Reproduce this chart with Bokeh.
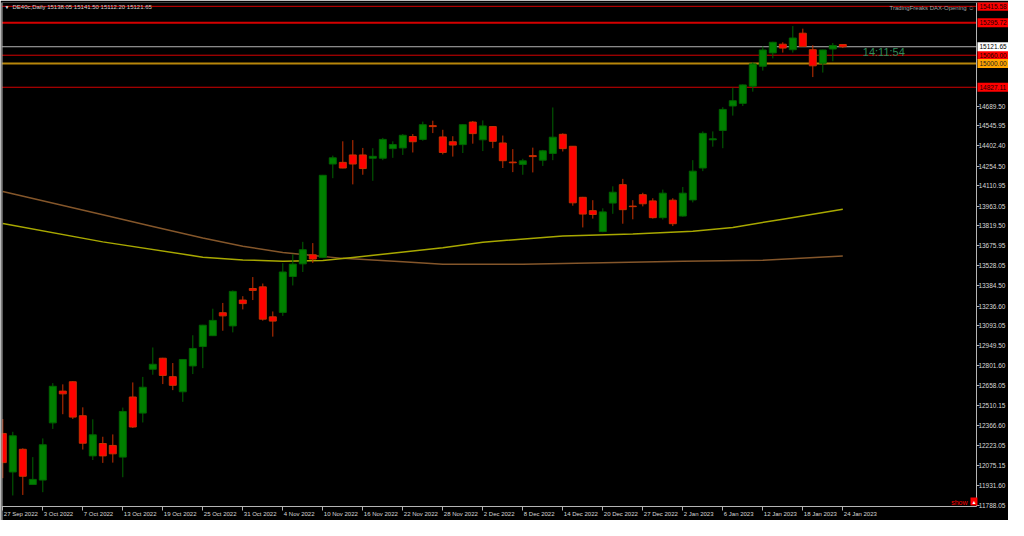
from bokeh.plotting import figure
from bokeh.models import Range1d, FixedTicker, Span, Label, LinearAxis
from bokeh.embed import file_html
from bokeh.resources import INLINE

# ---------------- data ----------------
open_ = [12310, 12030, 12195, 11939, 11971, 12387, 12618, 12686, 12439, 12147,
         12237, 12223, 12138, 12575, 12458, 12777, 12857, 12723, 12613, 12801,
         12942, 13021, 13188, 13092, 13280, 13364, 13376, 13158, 13190, 13451,
         13543, 13609, 13590, 14269, 14281, 14335, 14335, 14311, 14311, 14381,
         14386, 14469, 14448, 14548, 14466, 14431, 14410, 14574, 14445, 14541,
         14422, 14283, 14266, 14330, 14297, 14346, 14485, 14398, 14027, 13930,
         13778, 13985, 14119, 13963, 14046, 14001, 13879, 14006, 13891, 14008,
         14240, 14445, 14513, 14691, 14710, 14835, 14980, 15077, 15140, 15100,
         15220, 15100, 15002, 15105, 15138.05]
high = [12415, 12322, 12202, 12138, 12274, 12676, 12667, 12690, 12500, 12413,
        12286, 12303, 12498, 12681, 12721, 12935, 12860, 12822, 12850, 13024,
        13100, 13217, 13259, 13350, 13308, 13447, 13400, 13197, 13548, 13613,
        13703, 13694, 14190, 14330, 14434, 14443, 14386, 14384, 14459, 14434,
        14487, 14487, 14577, 14584, 14518, 14471, 14560, 14582, 14586, 14545,
        14476, 14377, 14307, 14388, 14372, 14680, 14492, 14400, 14030, 14006,
        13947, 14107, 14161, 14006, 14060, 14020, 14083, 14020, 14102, 14297,
        14506, 14506, 14682, 14823, 14848, 15009, 15124, 15158, 15154, 15272,
        15253, 15133, 15100, 15149, 15141.50]
low = [11985, 11859, 11863, 11935, 11883, 12343, 12450, 12415, 12193, 12117,
       12096, 12098, 11992, 12350, 12390, 12737, 12669, 12625, 12540, 12742,
       12785, 13018, 13057, 13045, 13212, 13280, 13130, 13014, 13165, 13386,
       13484, 13550, 13585, 14166, 14238, 14121, 14191, 14147, 14297, 14314,
       14335, 14353, 14438, 14494, 14339, 14323, 14349, 14417, 14363, 14384,
       14240, 14210, 14191, 14208, 14255, 14297, 14360, 13966, 13808, 13872,
       13773, 13907, 13835, 13867, 13961, 13872, 13865, 13818, 13886, 13990,
       14217, 14395, 14384, 14621, 14691, 14795, 14948, 15037, 15079, 15079,
       15120, 14901, 14934, 15016, 15112.20]
close = [12098, 12293, 11999, 11976, 12228, 12653, 12598, 12429, 12239, 12300,
         12147, 12162, 12470, 12357, 12646, 12813, 12732, 12660, 12848, 12928,
         13097, 13132, 13165, 13343, 13254, 13350, 13141, 13127, 13484, 13541,
         13646, 13578, 14187, 14314, 14240, 14269, 14236, 14325, 14448, 14410,
         14478, 14431, 14555, 14541, 14353, 14407, 14555, 14490, 14546, 14434,
         14293, 14278, 14292, 14323, 14365, 14464, 14381, 13987, 13905, 13902,
         13921, 14064, 13937, 13959, 13980, 13879, 14057, 13835, 14057, 14217,
         14492, 14452, 14666, 14729, 14844, 14997, 15098, 15154, 15112, 15185,
         15124, 14983, 15098, 15131, 15121.65]

# moving averages (bar index, value)
ma_slow_idx = [0, 10, 15, 20, 24, 28, 34, 40, 44, 52, 60, 68, 76, 84]
ma_slow_val = [14069, 13900, 13815, 13731, 13671, 13625, 13583, 13558, 13541,
               13541, 13551, 13562, 13569, 13600]
ma_fast_idx = [0, 10, 20, 24, 28, 32, 35, 38, 44, 48, 56, 63, 69, 73, 78, 84]
ma_fast_val = [13837, 13703, 13592, 13572, 13562, 13567, 13590, 13613, 13660,
               13701, 13745, 13761, 13780, 13808, 13868, 13940]

# x-axis tick labels (every 4th bar)
tick_idx = list(range(0, 85, 4))
tick_labels = ["27 Sep 2022", "3 Oct 2022", "7 Oct 2022", "13 Oct 2022",
               "19 Oct 2022", "25 Oct 2022", "31 Oct 2022", "4 Nov 2022",
               "10 Nov 2022", "16 Nov 2022", "22 Nov 2022", "28 Nov 2022",
               "2 Dec 2022", "8 Dec 2022", "14 Dec 2022", "20 Dec 2022",
               "27 Dec 2022", "2 Jan 2023", "6 Jan 2023", "12 Jan 2023",
               "18 Jan 2023", "24 Jan 2023"]

# price-axis ticks
y_ticks = [11788.05, 11931.60, 12075.15, 12223.05, 12366.60, 12510.15,
           12658.05, 12801.60, 12949.50, 13093.05, 13236.60, 13384.50,
           13528.05, 13675.95, 13819.50, 13963.05, 14110.95, 14254.50,
           14402.40, 14545.95, 14689.50]

# horizontal levels
level_values = [15415.58, 15295.72, 15060.00, 14827.11]
level_widths = [1, 2, 1, 1]
orange_level = 15000.00
bid_level = 15121.65

# ---------------- layout constants ----------------
W, H = 1008, 520
X_START = -0.13            # left edge of chart area (bar units)
X_AXIS = X_START + 97.5    # position of the price axis line
X_END = X_START + 100.7    # right edge of canvas
Y_TOP = 15443.3            # price at top of chart area
Y_BOT = 11779.0            # price at bottom of chart area
PX_PRICE = (Y_TOP - Y_BOT) / 504.0
Y_START = Y_TOP - 518 * PX_PRICE

FONT = "Liberation Sans"
FS = "6.5px"
FS_SMALL = "6px"
TXT = "#d8d8d8"
GRID = "#b4b4b4"

p = figure(width=W, height=H, output_backend="svg", toolbar_location=None,
           x_range=Range1d(X_START, X_END), y_range=Range1d(Y_START, Y_TOP),
           x_axis_location=None, y_axis_location=None,
           min_border_left=1, min_border_right=0, min_border_top=2,
           min_border_bottom=0,
           background_fill_color="black", border_fill_color="black",
           outline_line_color=None)
p.grid.visible = False

# price axis: drawn at a fixed location with labels to its right
ya = LinearAxis(fixed_location=X_AXIS, ticker=FixedTicker(ticks=y_ticks),
                bounds=(Y_BOT, Y_TOP + 20 * PX_PRICE),
                major_label_overrides={v: f"{v:.2f}" for v in y_ticks},
                major_label_text_font=FONT, major_label_text_font_size=FS,
                major_label_text_color=TXT, major_tick_in=3, major_tick_out=0,
                minor_tick_line_color=None, major_tick_line_color=GRID,
                axis_line_color=GRID, major_label_standoff=-29)
p.add_layout(ya, "left")

# time axis: line + tick marks at the bottom of the chart area
xa = LinearAxis(fixed_location=Y_BOT, ticker=FixedTicker(ticks=tick_idx),
                bounds=(X_START, X_AXIS),
                major_label_overrides={i: "" for i in tick_idx},
                major_label_text_font_size="1px", major_label_standoff=0,
                major_tick_in=4, major_tick_out=0, minor_tick_line_color=None,
                major_tick_line_color=GRID, axis_line_color=GRID)
p.add_layout(xa, "above")

# date labels, left-aligned on their tick
for i, t in zip(tick_idx, tick_labels):
    p.add_layout(Label(x=i, y=Y_BOT, y_offset=-7, x_offset=1, text=t,
                       text_align="left", text_baseline="middle",
                       text_font=FONT, text_font_size=FS_SMALL,
                       text_color=TXT))

# left border of chart area
p.add_layout(Span(location=X_START, dimension="height", line_color=GRID,
                  line_width=2))

# horizontal levels
n = len(level_values)
p.segment([X_START] * n, level_values, [X_AXIS] * n, level_values,
          line_color="#d40000", line_width=level_widths)
p.segment([X_START], [orange_level], [X_AXIS], [orange_level],
          line_color="#b8860b", line_width=2)
p.segment([X_START], [bid_level], [X_AXIS], [bid_level],
          line_color=GRID, line_width=1)

# moving averages
p.line(ma_slow_idx, ma_slow_val, line_color="#84562a", line_width=1.5)
p.line(ma_fast_idx, ma_fast_val, line_color="#a8a800", line_width=1.5)

# candles
idx = list(range(len(open_)))
up = [i for i in idx if close[i] >= open_[i]]
dn = [i for i in idx if close[i] < open_[i]]
p.segment(up, [high[i] for i in up], up, [low[i] for i in up],
          line_color="#006400", line_width=1)
p.segment(dn, [high[i] for i in dn], dn, [low[i] for i in dn],
          line_color="#c83000", line_width=1)
p.vbar(x=up, width=0.7, bottom=[open_[i] for i in up],
       top=[close[i] for i in up], fill_color="#008000", line_color="#006400")
p.vbar(x=dn, width=0.7, bottom=[close[i] for i in dn],
       top=[open_[i] for i in dn], fill_color="#ff0000", line_color="#c83000")

# price tags over the price axis
def tag(v, bg, fg):
    p.add_layout(Label(x=X_AXIS, y=v, x_offset=1, text=f"{v:.2f}",
                       text_align="left", text_baseline="middle",
                       text_font=FONT, text_font_size=FS, text_color=fg,
                       background_fill_color=bg, padding=2))

for v in level_values:
    tag(v, "#ff0000", "#200000")
tag(orange_level, "#ffa500", "#202020")
tag(bid_level, "#ffffff", "#000000")

# header texts
p.add_layout(Label(x=X_START, y=Y_TOP, x_offset=3, y_offset=-4,
                   text="\u25bc", text_baseline="middle", text_font=FONT,
                   text_font_size="5px", text_color="#e0e0e0"))
p.add_layout(Label(x=X_START, y=Y_TOP, x_offset=11, y_offset=-4,
                   text="DE40c,Daily  15138.05 15141.50 15112.20 15121.65",
                   text_baseline="middle", text_font=FONT,
                   text_font_size=FS_SMALL, text_color="#d0d0d0"))
p.add_layout(Label(x=X_AXIS, y=Y_TOP, x_offset=-2, y_offset=-5,
                   text="TradingFreaks DAX-Opening \u263a", text_align="right",
                   text_baseline="middle", text_font=FONT,
                   text_font_size=FS_SMALL, text_color="#a0a0a0"))

# countdown near last bar
p.add_layout(Label(x=86, y=15084, text="14:11:54", text_align="left",
                   text_baseline="middle", text_font=FONT,
                   text_font_size="11px", text_color="#2e8b57"))

# "show" button at bottom-right of the chart area
p.add_layout(Label(x=X_AXIS, y=Y_BOT, x_offset=-9, y_offset=1,
                   text="show", text_align="right", text_baseline="bottom",
                   text_font=FONT, text_font_size="7px", text_color="#ff0000"))
p.add_layout(Label(x=X_AXIS, y=Y_BOT, x_offset=-6, y_offset=1,
                   text="\u25b2", text_align="left", text_baseline="bottom",
                   text_font=FONT, text_font_size="5px", text_color="#ffffff",
                   background_fill_color="#ff0000", padding=1))

open("out.html", "w").write(file_html(p, INLINE))
